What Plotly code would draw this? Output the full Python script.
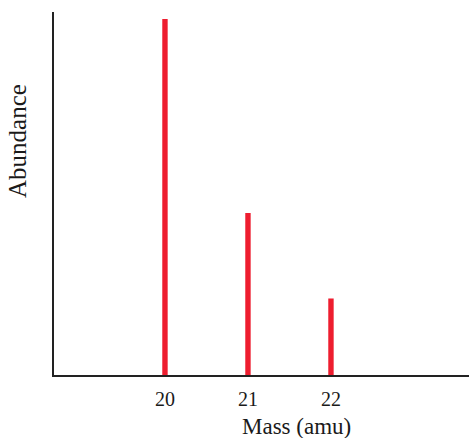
import plotly.graph_objects as go

# Isotope masses (amu) and relative abundances
masses = [20, 21, 22]
abundance = [100, 45.5, 21.5]
tick_labels = ["20", "21", "22"]

SERIF = "Liberation Serif, Times New Roman, serif"
RED = "#EE1D2F"

fig = go.Figure(
    go.Bar(
        x=masses,
        y=abundance,
        width=0.065,
        marker=dict(color=RED, line=dict(width=0)),
        hoverinfo="x+y",
    )
)

fig.update_layout(
    width=469,
    height=438,
    margin=dict(l=54, r=0, t=12, b=63),
    paper_bgcolor="white",
    plot_bgcolor="white",
    showlegend=False,
    xaxis=dict(
        range=[18.663, 23.663],
        tickmode="array",
        tickvals=masses,
        ticktext=tick_labels,
        ticks="",
        showgrid=False,
        zeroline=False,
        showline=True,
        linecolor="#222222",
        linewidth=2,
        tickfont=dict(family=SERIF, size=20, color="#1a1a1a"),
        ticklabelstandoff=5,
    ),
    yaxis=dict(
        range=[0, 102],
        showticklabels=False,
        ticks="",
        showgrid=False,
        zeroline=False,
        showline=True,
        linecolor="#222222",
        linewidth=2,
    ),
    annotations=[
        dict(
            text="Mass (amu)",
            x=296, y=426, xref="paper", yref="paper",
            showarrow=False,
            font=dict(family=SERIF, size=23, color="#1a1a1a"),
        ),
        dict(
            text="Abundance",
            textangle=-90,
            x=17, y=141, xref="paper", yref="paper",
            showarrow=False,
            font=dict(family=SERIF, size=25, color="#1a1a1a"),
        ),
    ],
)

# Position the axis titles in pixel terms relative to the plotting area
plot_w = 469 - 54
plot_h = 438 - 12 - 63
for ann in fig.layout.annotations:
    px, py = ann.x, ann.y
    ann.x = (px - 54) / plot_w
    ann.y = (438 - 63 - py) / plot_h
    ann.xanchor = "center"
    ann.yanchor = "middle"

fig.write_html("out.html")
